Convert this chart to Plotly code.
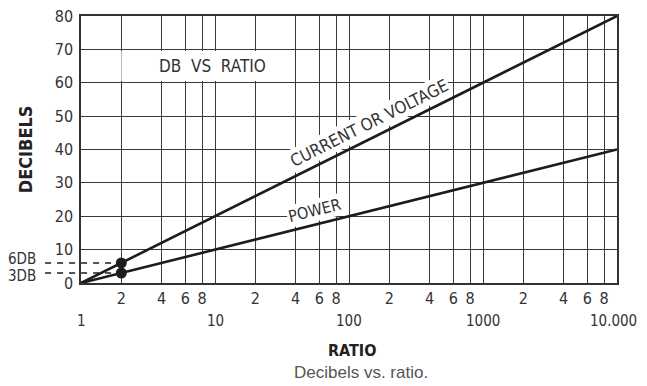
import math
import plotly.graph_objects as go

# values
ratio = [1, 2, 10, 100, 1000, 10000]
power_db = [0, 3, 10, 20, 30, 40]
voltage_db = [0, 6, 20, 40, 60, 80]

marked_ratio = [2, 2]
marked_db = [3, 6]
marked_text = ["3DB", "6DB"]

minor_ticks = [2, 4, 6, 8]
decades = [1, 10, 100, 1000, 10000]
decade_text = ["1", "10", "100", "1000", "10.000"]
y_ticks = [0, 10, 20, 30, 40, 50, 60, 70, 80]

FONT = "DejaVu Sans Condensed, Liberation Sans Narrow, sans-serif"
INK = "#1c1c1c"
TXT = "#333333"

# x ticks: 2,4,6,8 in each decade, plus unlabelled decade lines
tickvals, ticktext = [], []
for d in decades[:-1]:
    tickvals.append(d)
    ticktext.append("")
    for m in minor_ticks:
        tickvals.append(d * m)
        ticktext.append(str(m))
tickvals.append(decades[-1])
ticktext.append("")

fig = go.Figure()

fig.add_trace(go.Scatter(x=ratio, y=voltage_db, mode="lines",
                         line=dict(color=INK, width=2.6), hoverinfo="skip"))
fig.add_trace(go.Scatter(x=ratio, y=power_db, mode="lines",
                         line=dict(color=INK, width=2.6), hoverinfo="skip"))
fig.add_trace(go.Scatter(x=marked_ratio, y=marked_db, mode="markers",
                         marker=dict(color=INK, size=11), cliponaxis=False,
                         hoverinfo="skip"))

span = math.log10(decades[-1]) - math.log10(decades[0])
shapes = []
annotations = []

# dashed leaders for 3DB / 6DB (labels pushed apart a little, as in the print)
label_shift = {3: -3, 6: 4}
for r, db, t in zip(marked_ratio, marked_db, marked_text):
    shapes.append(dict(type="line", xref="paper", yref="y",
                       x0=-0.067, x1=math.log10(r) / span, y0=db, y1=db,
                       line=dict(color=INK, width=1.3, dash="6px,6px"),
                       layer="above"))
    annotations.append(dict(text=t, xref="paper", yref="y", x=-0.08, y=db,
                            xanchor="right", yanchor="middle", showarrow=False,
                            yshift=label_shift[db],
                            font=dict(family=FONT, size=15, color=TXT)))

# white box behind the chart title
shapes.append(dict(type="rect", xref="x", yref="y", x0=2, x1=36, y0=60.5, y1=69.5,
                   fillcolor="white", line=dict(width=0), layer="between"))
annotations.append(dict(text="DB  VS  RATIO", x=math.log10(9.6), y=65, xref="x", yref="y",
                        showarrow=False, font=dict(family=FONT, size=17, color=TXT)))

annotations.append(dict(text="CURRENT OR VOLTAGE", x=math.log10(141), y=48,
                        xref="x", yref="y", textangle=-26.5, showarrow=False,
                        bgcolor="white", borderpad=1,
                        font=dict(family=FONT, size=17, color=TXT)))
annotations.append(dict(text="POWER", x=math.log10(55), y=21.7,
                        xref="x", yref="y", textangle=-14, showarrow=False,
                        bgcolor="white", borderpad=1,
                        font=dict(family=FONT, size=16, color=TXT)))

# decade labels on a second row (last one nudged in from the window edge)
for d, t in zip(decades, decade_text):
    annotations.append(dict(text=t, x=math.log10(d), y=0, xref="x", yref="paper",
                            xanchor="center", yanchor="middle", yshift=-38,
                            xshift=-4 if d == decades[-1] else 0,
                            showarrow=False,
                            font=dict(family=FONT, size=15, color=TXT)))

annotations.append(dict(text="<b>DECIBELS</b>", x=-0.103, y=0.5, xref="paper", yref="paper",
                        xanchor="center", yanchor="middle", textangle=-90, showarrow=False,
                        font=dict(family=FONT, size=18, color="#222")))
annotations.append(dict(text="<b>RATIO</b>", x=0.506, y=0, xref="paper", yref="paper",
                        xanchor="center", yanchor="middle", yshift=-67, showarrow=False,
                        font=dict(family=FONT, size=16, color="#222")))
annotations.append(dict(text="Decibels vs. ratio.", x=0.522, y=0, xref="paper", yref="paper",
                        xanchor="center", yanchor="middle", yshift=-89, showarrow=False,
                        font=dict(family="Liberation Sans, Arial, sans-serif", size=17,
                                  color="#555")))

# the page body adds an 8px margin, so the figure is shifted by 8px
fig.update_layout(
    width=639, height=378,
    margin=dict(l=73, r=30, t=8, b=103),
    paper_bgcolor="white", plot_bgcolor="white",
    showlegend=False,
    shapes=shapes, annotations=annotations,
    font=dict(family=FONT, size=16, color=TXT),
)
fig.update_xaxes(type="log", range=[0, 4], tickvals=tickvals, ticktext=ticktext,
                 showgrid=True, gridcolor="#3a3a3a", gridwidth=1,
                 showline=True, mirror=True, linecolor="#333", linewidth=1.5,
                 ticks="", zeroline=False, automargin=False,
                 ticklabeloverflow="allow",
                 tickfont=dict(family=FONT, size=16, color=TXT))
fig.update_yaxes(range=[0, 80], tickvals=y_ticks,
                 showgrid=True, gridcolor="#3a3a3a", gridwidth=1,
                 showline=True, mirror=True, linecolor="#333", linewidth=1.5,
                 ticks="", zeroline=False, automargin=False, ticklabelstandoff=3,
                 ticklabeloverflow="allow",
                 tickfont=dict(family=FONT, size=16, color=TXT))

fig.write_html("out.html")
